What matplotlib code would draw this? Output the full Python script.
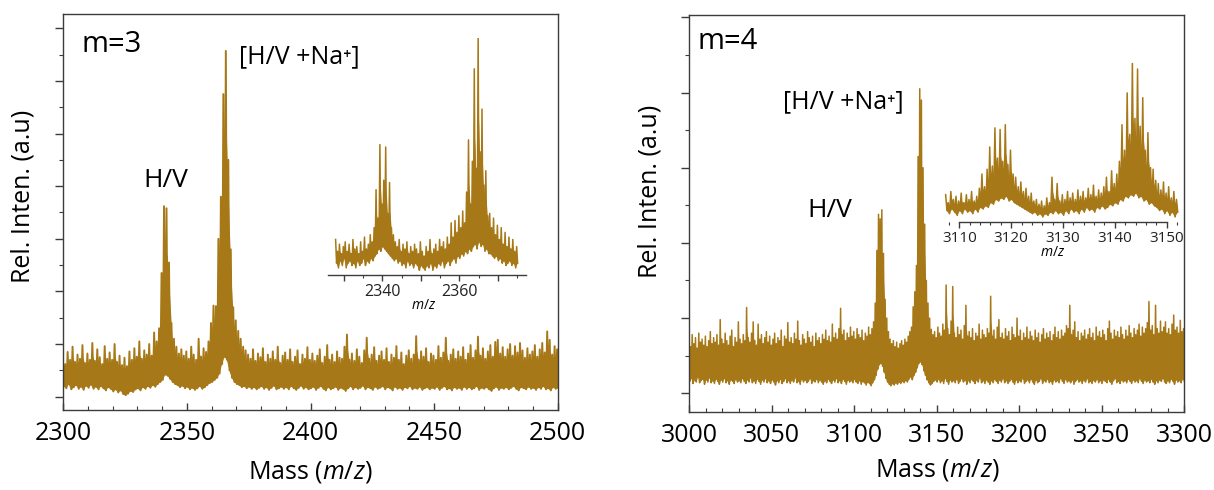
import numpy as np
import matplotlib
matplotlib.use("Agg")
import matplotlib.pyplot as plt
from matplotlib.ticker import MultipleLocator, FuncFormatter

plt.rcParams['font.family'] = ['Open Sans', 'DejaVu Sans']
plt.rcParams['mathtext.fontset'] = 'custom'
plt.rcParams['mathtext.rm'] = 'Open Sans'
plt.rcParams['mathtext.it'] = 'Open Sans:italic'

# ---- data (upper / lower trace envelope per bin) ----
# m=3 main spectrum, 1 Da bins 2300..2500, intensity in tick units x100
m3_mz = np.arange(2300, 2501, 1)
m3_top = [78, 62, 85, 70, 95, 66, 80, 72, 98, 64,
          82, 70, 102, 68, 90, 75, 62, 96, 72, 84,
          70, 100, 66, 78, 60, 74, 58, 86, 70, 92,
          76, 105, 72, 88, 80, 100, 78, 122, 105, 130,
          235, 362, 358, 255, 140, 110, 95, 82, 90, 78,
          86, 72, 95, 80, 70, 110, 76, 92, 85, 105,
          140, 173, 172, 300, 380, 575, 657, 450, 280, 170,
          145, 125, 110, 95, 88, 80, 72, 90, 68, 82,
          75, 92, 66, 80, 72, 86, 70, 95, 64, 78,
          84, 70, 90, 66, 76, 88, 62, 80, 72, 94,
          70, 82, 68, 78, 90, 64, 76, 98, 70, 80,
          66, 86, 74, 72, 95, 118, 70, 82, 68, 90,
          76, 64, 88, 112, 72, 80, 94, 68, 78, 86,
          70, 92, 66, 80, 74, 96, 70, 84, 62, 78,
          88, 72, 80, 115, 70, 86, 76, 92, 66, 82,
          78, 70, 96, 74, 84, 112, 68, 80, 90, 72,
          86, 76, 94, 70, 82, 98, 74, 88, 114, 78,
          92, 72, 86, 98, 76, 104, 108, 82, 94, 76,
          90, 100, 78, 96, 84, 102, 88, 74, 92, 80,
          86, 98, 76, 90, 102, 84, 124, 108, 80, 96,
          90]
m3_bot = [20, 16, 24, 14, 18, 22, 15, 19, 13, 21,
          17, 23, 15, 19, 14, 20, 16, 12, 18, 15,
          10, 14, 8, 12, 5, 3, 6, 11, 9, 14,
          16, 12, 18, 15, 20, 17, 22, 19, 24, 28,
          32, 42, 40, 34, 28, 24, 22, 18, 21, 16,
          19, 14, 17, 13, 16, 20, 15, 18, 22, 26,
          28, 32, 36, 44, 62, 76, 70, 50, 36, 28,
          24, 22, 18, 20, 16, 19, 15, 18, 14, 17,
          20, 15, 18, 13, 17, 21, 14, 16, 19, 15,
          18, 14, 20, 16, 13, 17, 21, 15, 18, 14,
          16, 19, 13, 17, 20, 15, 12, 18, 14, 16,
          19, 13, 17, 15, 11, 16, 20, 14, 18, 15,
          17, 21, 14, 18, 16, 13, 19, 15, 17, 20,
          14, 18, 16, 12, 19, 15, 17, 13, 18, 16,
          20, 14, 17, 15, 19, 13, 16, 18, 14, 17,
          15, 19, 13, 17, 20, 14, 16, 12, 18, 15,
          17, 13, 19, 15, 18, 14, 16, 20, 13, 17,
          15, 18, 14, 11, 16, 19, 13, 17, 15, 18,
          14, 17, 20, 15, 12, 18, 16, 14, 19, 15,
          17, 13, 18, 15, 20, 14, 16, 12, 18, 15,
          17]

# m=4 main spectrum, 1 Da bins 3000..3300
m4_mz = np.arange(3000, 3301, 1)
m4_top = [70, 62, 78, 66, 74, 60, 80, 68, 72, 64,
          76, 62, 70, 82, 66, 74, 68, 78, 64, 98,
          72, 66, 80, 70, 64, 76, 84, 62, 74, 68,
          95, 72, 66, 78, 70, 114, 74, 68, 80, 95,
          70, 64, 92, 72, 78, 66, 74, 82, 68, 76,
          64, 72, 80, 66, 74, 70, 84, 62, 76, 72,
          94, 68, 74, 66, 80, 72, 96, 70, 64, 78,
          72, 66, 82, 74, 68, 76, 62, 80, 70, 74,
          66, 78, 72, 84, 70, 76, 68, 92, 74, 80,
          72, 86, 113, 78, 84, 70, 80, 74, 88, 76,
          82, 72, 86, 78, 74, 84, 70, 80, 76, 88,
          78, 86, 95, 120, 190, 238, 232, 244, 186, 125,
          100, 82, 72, 66, 70, 62, 68, 60, 66, 70,
          64, 72, 68, 76, 82, 88, 115, 135, 170, 315,
          405, 390, 300, 225, 150, 120, 100, 85, 78, 82,
          74, 88, 80, 76, 92, 84, 144, 86, 78, 96,
          142, 80, 74, 88, 78, 84, 72, 90, 117, 76,
          82, 74, 86, 70, 80, 76, 92, 72, 84, 78,
          74, 86, 80, 129, 76, 84, 72, 88, 98, 74,
          80, 72, 86, 76, 82, 70, 88, 78, 74, 100,
          76, 84, 70, 80, 74, 88, 72, 82, 76, 70,
          84, 74, 80, 68, 78, 86, 72, 80, 74, 82,
          70, 78, 88, 74, 82, 72, 84, 76, 80, 90,
          86, 117, 78, 84, 95, 74, 82, 70, 80, 76,
          84, 72, 78, 86, 74, 80, 70, 88, 76, 82,
          74, 84, 78, 70, 86, 96, 80, 72, 84, 76,
          82, 74, 88, 78, 72, 84, 76, 90, 80, 74,
          86, 78, 84, 92, 76, 88, 80, 86, 94, 122,
          84, 90, 78, 117, 86, 80, 96, 82, 88, 95,
          80, 86, 78, 92, 104, 84, 88, 80, 97, 82,
          86]
m4_bot = [16, 20, 13, 18, 15, 22, 14, 17, 19, 12,
          18, 15, 21, 14, 17, 13, 19, 16, 12, 18,
          15, 20, 14, 17, 12, 18, 16, 13, 19, 15,
          17, 14, 20, 16, 13, 18, 15, 21, 14, 17,
          13, 19, 16, 12, 18, 15, 20, 14, 17, 13,
          18, 15, 11, 17, 14, 19, 13, 16, 20, 14,
          17, 13, 18, 15, 21, 14, 16, 12, 19, 15,
          18, 14, 16, 20, 13, 17, 15, 19, 14, 18,
          15, 12, 17, 14, 19, 16, 13, 18, 15, 20,
          14, 17, 13, 19, 16, 12, 18, 15, 17, 14,
          19, 15, 13, 17, 12, 16, 14, 11, 15, 13,
          10, 14, 18, 24, 32, 38, 40, 36, 28, 20,
          15, 12, 10, 13, 11, 14, 12, 15, 13, 16,
          14, 17, 15, 19, 22, 18, 24, 28, 34, 40,
          42, 38, 30, 24, 18, 14, 11, 13, 16, 18,
          15, 19, 14, 17, 13, 20, 16, 12, 18, 15,
          17, 14, 19, 13, 16, 20, 15, 18, 12, 17,
          14, 19, 16, 13, 18, 15, 21, 14, 17, 13,
          18, 15, 12, 17, 14, 19, 16, 13, 18, 15,
          20, 14, 17, 13, 16, 19, 15, 12, 18, 14,
          17, 15, 20, 13, 16, 18, 14, 19, 15, 12,
          18, 14, 16, 20, 13, 17, 15, 19, 14, 16,
          12, 18, 15, 17, 14, 20, 16, 13, 19, 15,
          17, 14, 18, 12, 16, 19, 15, 17, 13, 18,
          15, 20, 14, 16, 13, 18, 15, 19, 14, 17,
          13, 18, 16, 14, 19, 15, 12, 17, 20, 14,
          16, 13, 18, 15, 17, 14, 19, 16, 13, 18,
          15, 17, 14, 20, 16, 13, 18, 15, 17, 14,
          19, 15, 12, 17, 14, 18, 16, 20, 15, 13,
          17, 14, 19, 16, 12, 18, 15, 17, 14, 19,
          16]

# insets, 0.5 Da bins, intensity in % of inset height
m3_ins_mz = np.arange(2328, 2375.5, 0.5)
m3_ins_top = [15, 10, 13, 9, 12, 14, 10, 13, 9, 15,
              11, 12, 9, 14, 10, 16, 11, 13, 17, 14,
              20, 36, 24, 55, 30, 40, 54, 26, 39, 20,
              17, 14, 12, 15, 10, 13, 11, 14, 9, 12,
              10, 13, 11, 9, 14, 10, 8, 12, 10, 15,
              9, 11, 13, 10, 15, 12, 14, 11, 16, 13,
              22, 16, 23, 18, 25, 20, 27, 22, 35, 57,
              30, 48, 87, 45, 100, 52, 70, 38, 44, 25,
              26, 20, 24, 17, 21, 15, 20, 13, 18, 12,
              16, 11, 15, 10, 12]
m3_ins_bot = [5, 3, 6, 4, 7, 3, 5, 6, 4, 5,
              3, 6, 4, 5, 7, 4, 6, 5, 7, 6,
              8, 9, 11, 10, 12, 11, 10, 9, 8, 7,
              6, 7, 5, 6, 4, 5, 3, 6, 4, 5,
              3, 5, 4, 2, 4, 3, 2, 4, 3, 5,
              2, 4, 3, 5, 4, 6, 3, 5, 6, 4,
              6, 7, 5, 8, 7, 9, 8, 10, 9, 11,
              10, 12, 13, 11, 14, 12, 13, 10, 11, 9,
              9, 8, 7, 8, 6, 7, 5, 6, 4, 5,
              6, 4, 5, 3, 5]

m4_ins_mz = np.arange(3107.5, 3152.5, 0.5)
m4_ins_top = [17, 12, 19, 14, 16, 13, 18, 12, 17, 14,
              19, 13, 16, 21, 30, 22, 33, 47, 35, 59,
              40, 58, 38, 61, 36, 45, 30, 28, 22, 25,
              19, 21, 16, 18, 13, 14, 11, 13, 10, 15,
              12, 28, 14, 24, 13, 17, 14, 19, 15, 18,
              14, 20, 16, 19, 15, 21, 17, 23, 16, 20,
              18, 22, 28, 19, 32, 24, 30, 38, 61, 45,
              81, 55, 100, 65, 96, 60, 78, 45, 56, 34,
              33, 26, 24, 20, 25, 18, 22, 15, 19, 14]
m4_ins_bot = [7, 5, 8, 6, 4, 7, 5, 8, 6, 7,
              5, 8, 6, 9, 8, 10, 9, 12, 11, 14,
              13, 15, 14, 16, 13, 14, 12, 11, 10, 9,
              8, 7, 6, 5, 6, 4, 5, 3, 5, 4,
              6, 5, 7, 5, 6, 4, 7, 5, 8, 6,
              7, 5, 8, 6, 9, 7, 8, 6, 9, 8,
              10, 8, 9, 11, 10, 12, 11, 14, 13, 16,
              15, 17, 16, 18, 15, 16, 13, 14, 11, 12,
              10, 9, 7, 8, 5, 7, 4, 6, 3, 6]

# ---- drawing ----
W, H = 1214, 490
TRACE = '#A67817'
SPINE = '#3c3c3c'


def rect(x0, y0, x1, y1):
    return [x0 / W, 1 - y1 / H, (x1 - x0) / W, (y1 - y0) / H]


def fxy(x, y):
    return x / W, 1 - y / H


def trace(ax, mz, top, bot, step, scale, lw, core=0.72):
    top = np.asarray(top) / scale
    bot = np.asarray(bot) / scale
    # dense core of the noise band, then the spikes between the envelopes
    ax.fill_between(mz, bot, bot + core * (top - bot), color=TRACE, lw=0)
    x = np.column_stack([mz - step / 4, mz + step / 4]).ravel()
    y = np.column_stack([top, bot]).ravel()
    ax.plot(x, y, color=TRACE, lw=lw, solid_joinstyle='round')


def main_axes(ax, xlim, ylim, ymax_tick):
    ax.set_xlim(xlim)
    ax.set_ylim(ylim)
    ax.xaxis.set_major_locator(MultipleLocator(50))
    ax.xaxis.set_minor_locator(MultipleLocator(10))
    ax.set_yticks(np.arange(0, ymax_tick + 1))
    ax.yaxis.set_minor_locator(MultipleLocator(0.5))
    ax.tick_params(axis='x', which='both', direction='in', labelsize=18, pad=8,
                   colors=SPINE, labelcolor='black')
    ax.tick_params(axis='x', which='major', length=5, width=1)
    ax.tick_params(axis='x', which='minor', length=3, width=0.8)
    ax.tick_params(axis='y', which='both', direction='out', labelleft=False, colors=SPINE)
    ax.tick_params(axis='y', which='major', length=5.5, width=1)
    ax.tick_params(axis='y', which='minor', length=3, width=0.8)
    for s in ax.spines.values():
        s.set_color(SPINE)
        s.set_linewidth(1.0)


def inset_axes(ax, xlim, major, minor, lab_every, fs):
    ax.patch.set_alpha(0)
    ax.set_xlim(xlim)
    ax.set_ylim(0, 100)
    for s in ['left', 'right', 'top']:
        ax.spines[s].set_visible(False)
    ax.spines['bottom'].set_color(SPINE)
    ax.spines['bottom'].set_linewidth(1.0)
    ax.set_yticks([])
    ax.xaxis.set_major_locator(MultipleLocator(major))
    ax.xaxis.set_minor_locator(MultipleLocator(minor))
    ax.xaxis.set_major_formatter(
        FuncFormatter(lambda v, p: f'{v:.0f}' if round(v) % lab_every == 0 else ''))
    ax.tick_params(axis='x', which='both', direction='out', labelsize=fs, pad=2,
                   colors=SPINE, labelcolor='#222222')
    ax.tick_params(axis='x', which='major', length=4.5, width=1)
    ax.tick_params(axis='x', which='minor', length=2.5, width=0.8)


fig = plt.figure(figsize=(W / 100, H / 100), dpi=100)

# left panel, m=3
axL = fig.add_axes(rect(63.3, 13.7, 557.7, 410))
trace(axL, m3_mz, m3_top, m3_bot, 1, 100, 1.4)
main_axes(axL, (2300, 2500), (-0.253, 7.277), 7)

insL = fig.add_axes(rect(328, 38, 526, 275))
trace(insL, m3_ins_mz, m3_ins_top, m3_ins_bot, 0.5, 1, 1.1, core=0.6)
inset_axes(insL, (2325.9, 2377.3), 10, 5, 20, 11.5)

# right panel, m=4
axR = fig.add_axes(rect(689.3, 14.7, 1184, 412))
trace(axR, m4_mz, m4_top, m4_bot, 1, 100, 1.1)
main_axes(axR, (3000, 3300), (-0.249, 5.035), 5)

insR = fig.add_axes(rect(943.7, 62.7, 1179.7, 221.7))
trace(insR, m4_ins_mz, m4_ins_top, m4_ins_bot, 0.5, 1, 1.1, core=0.6)
inset_axes(insR, (3107, 3152.5), 10, 2, 10, 11)
insR.spines['bottom'].set_bounds(3110, 3150)

# texts
fig.text(*fxy(82, 51.7), 'm=3', fontsize=21, va='baseline')
fig.text(*fxy(239, 63.3), '[H/V +Na\u207a]', fontsize=18, va='baseline')
fig.text(*fxy(166, 187), 'H/V', fontsize=19, va='baseline', ha='center')
fig.text(*fxy(697, 49.3), 'm=4', fontsize=21, va='baseline')
fig.text(*fxy(783, 108), '[H/V +Na\u207a]', fontsize=18, va='baseline')
fig.text(*fxy(830, 217), 'H/V', fontsize=19, va='baseline', ha='center')

fig.text(*fxy(23, 196), 'Rel. Inten. (a.u)', fontsize=18, rotation=90,
         ha='center', va='center')
fig.text(*fxy(650, 191), 'Rel. Inten. (a.u)', fontsize=18, rotation=90,
         ha='center', va='center')
fig.text(*fxy(310, 472), 'Mass ($m/z$)', fontsize=18, ha='center', va='center')
fig.text(*fxy(937, 470), 'Mass ($m/z$)', fontsize=18, ha='center', va='center')

fig.text(*fxy(424, 305), '$m/z$', fontsize=10, ha='center', va='center')
fig.text(*fxy(1053, 252), '$m/z$', fontsize=10, ha='center', va='center')

fig.savefig('out.png', dpi=100)
